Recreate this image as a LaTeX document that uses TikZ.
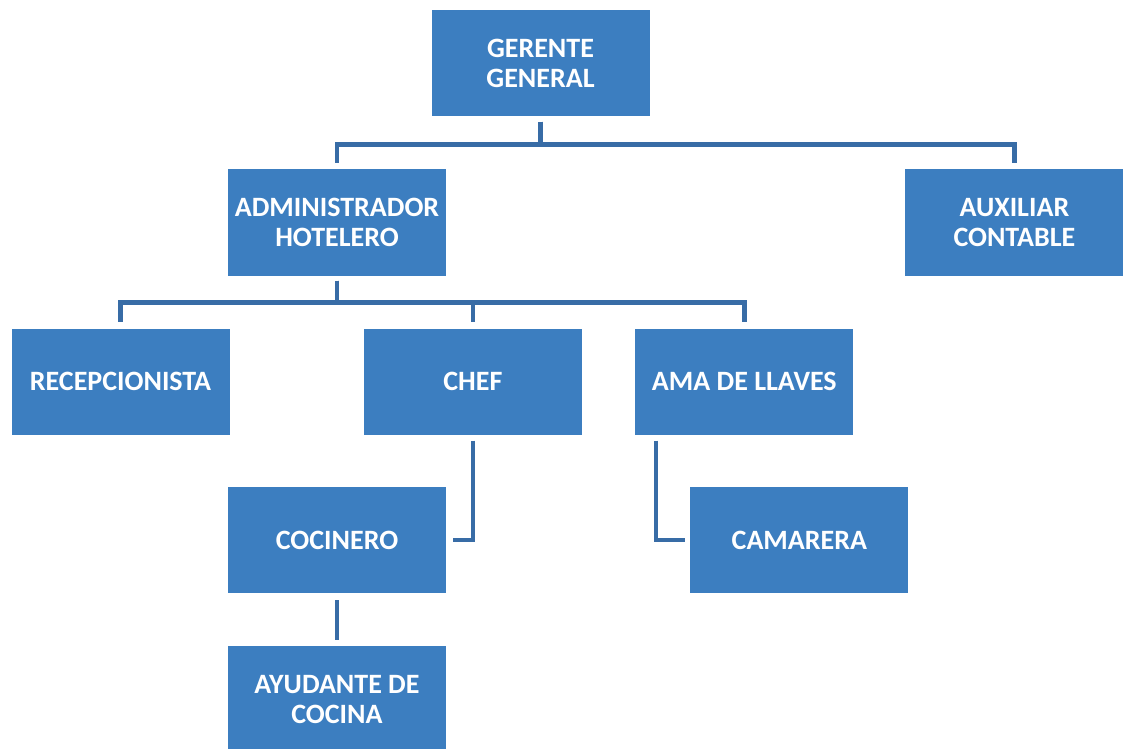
\documentclass[tikz,border=0pt]{standalone}
\usepackage{fontspec}
\setmainfont{Carlito}
\usetikzlibrary{positioning}

\definecolor{boxblue}{RGB}{60,126,192}
\definecolor{lineblue}{RGB}{56,108,166}

\begin{document}
\begin{tikzpicture}[x=1pt, y=1pt, node distance=53pt,
    box/.style={rectangle, fill=boxblue, text=white, minimum width=218pt, minimum height=106pt,
        align=center, inner sep=0pt, font=\fontsize{28}{30}\selectfont\bfseries},
    link/.style={draw=lineblue, line width=4.5pt}]

        \useasboundingbox (0,0) rectangle (1125,-749);

        % Nodes
        \node[box] (gerente) at (540.5,-63.5) {GERENTE\\GENERAL};
        \node[box] (admin) at (337,-222.5) {ADMINISTRADOR\\HOTELERO};
        \node[box, right=459pt of admin] (auxiliar) {AUXILIAR\\CONTABLE};
        \node[box] (recep) at (120.5,-381.5) {RECEPCIONISTA};
        \node[box, right=134pt of recep] (chef) {CHEF};
        \node[box, right=53pt of chef] (ama) {AMA DE LLAVES};
        \node[box] (cocinero) at (337,-540) {COCINERO};
        \node[box, right=244pt of cocinero] (camarera) {CAMARERA};
        \node[box, below=53pt of cocinero] (ayudante) {AYUDANTE DE\\COCINA};

        % Lines
        \draw[link] ([yshift=-5pt]gerente.south) -- ++(0,-23) -| ([yshift=6pt]admin.north);
        \draw[link] ([yshift=-5pt]gerente.south) -- ++(0,-23) -| ([yshift=6pt]auxiliar.north);
        \draw[link] ([yshift=-5pt]admin.south) -- ++(0,-22) -| ([yshift=6pt]recep.north);
        \draw[link] ([yshift=-5pt]admin.south) -- ++(0,-22) -| ([yshift=6pt]chef.north);
        \draw[link] ([yshift=-5pt]admin.south) -- ++(0,-22) -| ([yshift=6pt]ama.north);
        \draw[link] ([yshift=-6pt]chef.south) |- ([xshift=7pt]cocinero.east);
        \draw[link] ([xshift=21pt,yshift=-6pt]ama.south west) |- ([xshift=-5pt]camarera.west);
        \draw[link] ([yshift=-7pt]cocinero.south) -- ([yshift=6pt]ayudante.north);

\end{tikzpicture}
\end{document}
